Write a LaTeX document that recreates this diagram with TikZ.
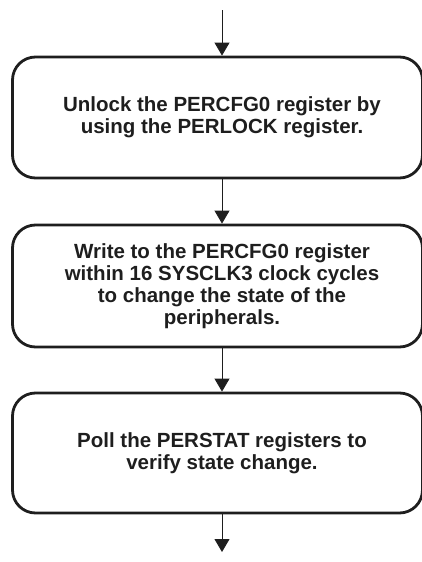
\documentclass[tikz,border=0pt]{standalone}
\usepackage{fontspec}
\setmainfont{Liberation Sans}
\usetikzlibrary{arrows.meta}
\definecolor{ink}{HTML}{1E1E1E}
\tikzset{
  stepbox/.style={draw=ink, line width=2.8pt, rounded corners=23pt, minimum width=410pt, inner sep=0pt},
  steptext/.style={align=center, text=ink, font=\fontsize{20.5}{22}\selectfont\bfseries, inner sep=0pt},
  flow/.style={draw=ink, line width=0.9pt, -{Triangle[width=15pt,length=13pt]}},
}
\begin{document}
\begin{tikzpicture}[x=1pt,y=-1pt]
\useasboundingbox (0,0) rectangle (422,562);
\node[stepbox, minimum height=121pt] (b1) at (217.5,117.5) {};
\node[steptext] (t1) at (222,117.5) {Unlock the PERCFG0 register by\\using the PERLOCK register.};
\node[stepbox, minimum height=122pt] (b2) at (217.5,286) {};
\node[steptext] (t2) at (222,286) {Write to the PERCFG0 register\\within 16 SYSCLK3 clock cycles\\to change the state of the\\peripherals.};
\node[stepbox, minimum height=120pt] (b3) at (217.5,453) {};
\node[steptext] (t3) at (222,453) {Poll the PERSTAT registers to\\verify state change.};
\coordinate (start) at (222,10);
\coordinate (finish) at (222,552);
\draw[flow] (start) -- (start |- b1.north);
\draw[flow] (start |- b1.south) -- (start |- b2.north);
\draw[flow] (start |- b2.south) -- (start |- b3.north);
\draw[flow] (start |- b3.south) -- (finish);
\end{tikzpicture}
\end{document}
